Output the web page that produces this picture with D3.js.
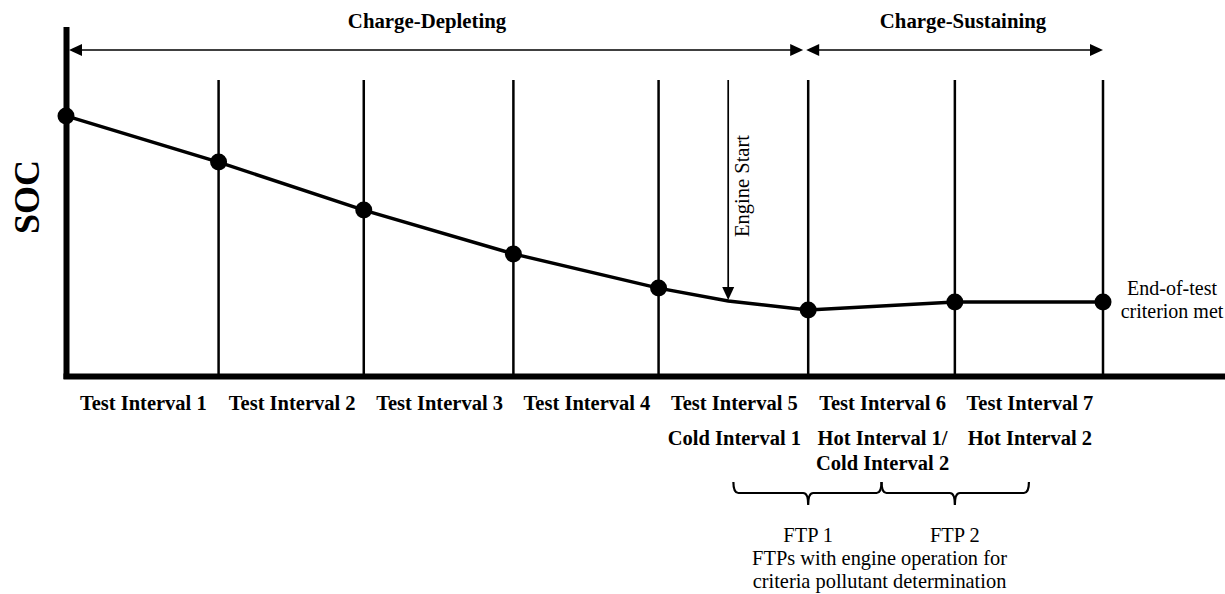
<!DOCTYPE html>
<html>
<head>
<meta charset="utf-8">
<script src="https://cdn.jsdelivr.net/npm/d3@7"></script>
<style>
  body { margin: 0; background: #fff; }
  text { font-family: "Liberation Serif", "Times New Roman", serif; fill: #000; }
</style>
</head>
<body>
<script>
 // interval boundaries (in test-interval units) and the SOC read at each one
 const boundaries = [0, 1.03, 2.01, 3.02, 4, 5.01, 6, 7];
 const socAtBoundary = [86.7, 71.3, 55.3, 40.7, 29.3, 22, 24.7, 24.7];
 const engineStart = { t: 4.47, soc: 25 };

 const intervalLabels = ['Test Interval 1', 'Test Interval 2', 'Test Interval 3', 'Test Interval 4',
   'Test Interval 5', 'Test Interval 6', 'Test Interval 7'];
 const subLabels = [[], [], [], [], ['Cold Interval 1'], ['Hot Interval 1/', 'Cold Interval 2'], ['Hot Interval 2']];

 const phaseNames = ['Charge-Depleting', 'Charge-Sustaining'];
 const phaseStart = [0, 5.01];
 const phaseEnd = [5.01, 7];

 const ftpLabels = ['FTP 1', 'FTP 2'];
 const ftpTip = [5.01, 6]; // brace points at these boundaries

 const width = 1225;
 const height = 594;

 const x = d3.scaleLinear().domain([0, 7]).range([66, 1103]);
 const y = d3.scaleLinear().domain([0, 100]).range([376, 76]);

 const svg = d3.select('body').append('svg')
   .attr('width', width)
   .attr('height', height);

 svg.append('rect').attr('width', width).attr('height', height).attr('fill', '#fff');

 // vertical interval lines
 svg.selectAll('.vline')
   .data(boundaries.slice(1))
   .join('line')
   .attr('x1', d => x(d)).attr('x2', d => x(d))
   .attr('y1', 80).attr('y2', 376)
   .attr('stroke', '#000').attr('stroke-width', 2.5);

 // axes
 svg.append('line')
   .attr('x1', 66.5).attr('x2', 66.5).attr('y1', 27).attr('y2', 379)
   .attr('stroke', '#000').attr('stroke-width', 6);
 svg.append('line')
   .attr('x1', 63.5).attr('x2', width).attr('y1', 376.5).attr('y2', 376.5)
   .attr('stroke', '#000').attr('stroke-width', 6);

 svg.append('text')
   .attr('transform', 'translate(39,' + 197 + ') rotate(-90)')
   .attr('text-anchor', 'middle')
   .style('font-size', '36px').style('font-weight', 'bold')
   .text('SOC');

 // SOC line
 const socPts = boundaries.map((t, i) => ({ t, soc: socAtBoundary[i] }));
 const linePts = socPts.slice(0, 5).concat([engineStart], socPts.slice(5));
 svg.append('path')
   .datum(linePts)
   .attr('d', d3.line().x(d => x(d.t)).y(d => y(d.soc)))
   .attr('fill', 'none')
   .attr('stroke', '#000')
   .attr('stroke-width', 3.5);

 svg.selectAll('.dot')
   .data(socPts)
   .join('circle')
   .attr('cx', d => x(d.t))
   .attr('cy', d => y(d.soc))
   .attr('r', 8.5)
   .attr('fill', '#000');

 // phase arrows
 function arrowHead(xTip, yTip, dir) {
   // dir: 1 = pointing right, -1 = left, 2 = down
   if (dir === 2) return `M${xTip},${yTip}L${xTip - 6},${yTip - 13}L${xTip + 6},${yTip - 13}Z`;
   return `M${xTip},${yTip}L${xTip - dir * 13},${yTip - 6}L${xTip - dir * 13},${yTip + 6}Z`;
 }

 const arrowY = 50;
 phaseNames.forEach((name, i) => {
   const x0 = x(phaseStart[i]) + (i === 0 ? 3 : -2);
   const x1 = x(phaseEnd[i]) - (i === 0 ? 5 : 0);
   svg.append('line')
     .attr('x1', x0 + 4).attr('x2', x1 - 4)
     .attr('y1', arrowY).attr('y2', arrowY)
     .attr('stroke', '#000').attr('stroke-width', 1.7);
   svg.append('path').attr('d', arrowHead(x0, arrowY, -1)).attr('fill', '#000');
   svg.append('path').attr('d', arrowHead(x1, arrowY, 1)).attr('fill', '#000');
   svg.append('text')
     .attr('x', i === 0 ? 427 : 963)
     .attr('y', 28)
     .attr('text-anchor', 'middle')
     .style('font-size', '20.8px').style('font-weight', 'bold')
     .text(name);
 });

 // engine start arrow
 const ex = x(engineStart.t);
 const ey = y(engineStart.soc) - 1;
 svg.append('line')
   .attr('x1', ex).attr('x2', ex).attr('y1', 80).attr('y2', ey - 10)
   .attr('stroke', '#000').attr('stroke-width', 1.7);
 svg.append('path').attr('d', arrowHead(ex, ey, 2)).attr('fill', '#000');
 svg.append('text')
   .attr('transform', `translate(${ex + 21},186) rotate(-90)`)
   .attr('text-anchor', 'middle')
   .style('font-size', '20.5px')
   .text('Engine Start');

 // end-of-test note
 svg.append('text')
   .attr('x', 1172).attr('y', 295)
   .attr('text-anchor', 'middle')
   .style('font-size', '20px')
   .selectAll('tspan')
   .data(['End-of-test', 'criterion met'])
   .join('tspan')
   .attr('x', 1172)
   .attr('dy', (d, i) => i === 0 ? 0 : 23)
   .text(d => d);

 // interval labels
 const mids = intervalLabels.map((d, i) => (boundaries[i] + boundaries[i + 1]) / 2);
 svg.selectAll('.ilabel')
   .data(intervalLabels)
   .join('text')
   .attr('x', (d, i) => x(mids[i]) + 1)
   .attr('y', 410)
   .attr('text-anchor', 'middle')
   .style('font-size', '20.5px').style('font-weight', 'bold')
   .text(d => d);

 subLabels.forEach((lines, i) => {
   lines.forEach((s, j) => {
     svg.append('text')
       .attr('x', x(mids[i]) + 1)
       .attr('y', 445 + j * 25)
       .attr('text-anchor', 'middle')
       .style('font-size', '20.5px').style('font-weight', 'bold')
       .text(s);
   });
 });

 // FTP braces
 const by0 = 482, by1 = 493, by2 = 505, r = 5;
 ftpLabels.forEach((name, i) => {
   const x0 = x(mids[4 + i]);
   const x1 = x(mids[5 + i]);
   const xm = x(ftpTip[i]);
   const d = `M${x0},${by0}Q${x0},${by1} ${x0 + r},${by1}L${xm - r},${by1}` +
     `Q${xm},${by1} ${xm},${by2}Q${xm},${by1} ${xm + r},${by1}` +
     `L${x1 - r},${by1}Q${x1},${by1} ${x1},${by0}`;
   svg.append('path').attr('d', d)
     .attr('fill', 'none').attr('stroke', '#000').attr('stroke-width', 2.2);
   svg.append('text')
     .attr('x', xm).attr('y', 542)
     .attr('text-anchor', 'middle')
     .style('font-size', '20.4px')
     .text(name);
 });

 svg.selectAll('.ftpnote')
   .data(['FTPs with engine operation for', 'criteria pollutant determination'])
   .join('text')
   .attr('x', x(mids[5]) - 2)
   .attr('y', (d, i) => 565 + i * 23)
   .attr('text-anchor', 'middle')
   .style('font-size', '20.4px')
   .text(d => d);
</script>
</body>
</html>
